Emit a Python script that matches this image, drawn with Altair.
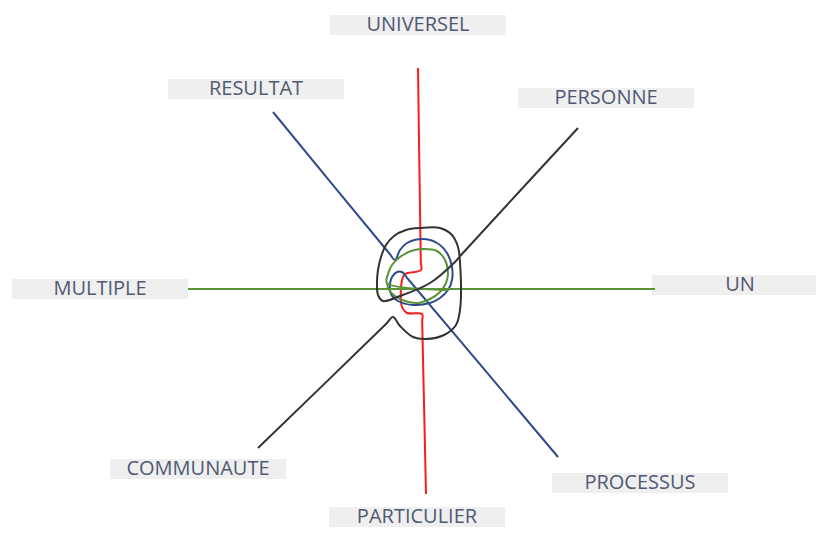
import altair as alt
import pandas as pd

# ---- labels and their boxes (page pixel coordinates) ----
labels = ["UNIVERSEL", "RESULTAT", "PERSONNE", "MULTIPLE", "UN",
          "COMMUNAUTE", "PROCESSUS", "PARTICULIER"]
label_cx = [418, 256, 606, 100, 740, 198, 640, 417]
label_cy = [25, 89, 98, 289, 285, 469, 483, 517]
BOX_W, BOX_H = 176, 20

# ---- paths ----
red_x = [418, 420.8, 421, 405, 402, 402, 407, 422, 422.2, 426]
red_y = [68, 262, 270, 274, 280, 307, 313, 314, 322, 494]

blue_x = [273, 389, 395, 400, 407, 423, 437, 447, 452, 452, 448, 440, 430, 413, 398, 391, 390, 392, 397, 402, 408, 558]
blue_y = [112, 253, 260, 250, 243, 239, 243, 253, 267, 280, 290, 298, 303, 305, 301, 294, 284, 277, 272, 272, 279, 457]

green_axis_x = [188, 655]
green_axis_y = [289, 289]

green_curl_x = [448, 387, 388, 392, 400, 411, 423, 437, 445, 448, 446, 440, 430, 418, 405, 395, 389, 387]
green_curl_y = [290, 283, 274, 265, 257, 251, 249, 251, 260, 273, 283, 292, 299, 303, 301, 296, 290, 283]

black_x = [578, 462, 455, 430, 400, 383, 378, 377, 378, 381, 386, 394, 406, 420, 440, 452, 458, 460, 460, 456, 444, 426, 413, 400, 393, 386, 258]
black_y = [128, 254, 262, 283, 296, 301, 295, 285, 270, 257, 245, 236, 230, 228, 228, 235, 247, 262, 310, 325, 335, 339, 337, 326, 317, 324, 448]

paths = {
    "red": (red_x, red_y),
    "blue": (blue_x, blue_y),
    "green_axis": (green_axis_x, green_axis_y),
    "green_curl": (green_curl_x, green_curl_y),
    "black": (black_x, black_y),
}
path_colors = {
    "red": "#ff1a1a",
    "blue": "#2f4b8c",
    "green_axis": "#5a9436",
    "green_curl": "#5a9436",
    "black": "#333333",
}

rows = []
for name, (xs_, ys_) in paths.items():
    for i, (x, y) in enumerate(zip(xs_, ys_)):
        rows.append({"path": name, "order": i, "x": x, "y": y})
path_df = pd.DataFrame(rows)

label_df = pd.DataFrame({
    "label": labels,
    "cx": label_cx,
    "cy": label_cy,
})
label_df["x1"] = label_df["cx"] - BOX_W / 2
label_df["x2"] = label_df["cx"] + BOX_W / 2
label_df["y1"] = label_df["cy"] - BOX_H / 2
label_df["y2"] = label_df["cy"] + BOX_H / 2

W, H = 808, 520
xs = alt.Scale(domain=[8, 8 + W], nice=False, zero=False)
ys = alt.Scale(domain=[8, 8 + H], nice=False, zero=False, reverse=True)

boxes = alt.Chart(label_df).mark_rect(color="#efefef").encode(
    x=alt.X("x1:Q", scale=xs, axis=None),
    x2="x2:Q",
    y=alt.Y("y1:Q", scale=ys, axis=None),
    y2="y2:Q",
)

texts = alt.Chart(label_df).mark_text(
    font="Open Sans", fontSize=20, color="#4f5a72", align="center", baseline="middle"
).encode(
    x=alt.X("cx:Q", scale=xs, axis=None),
    y=alt.Y("cy:Q", scale=ys, axis=None),
    text="label:N",
)

lines = alt.Chart(path_df).mark_line(strokeWidth=2, interpolate="catmull-rom").encode(
    x=alt.X("x:Q", scale=xs, axis=None),
    y=alt.Y("y:Q", scale=ys, axis=None),
    order="order:Q",
    detail="path:N",
    color=alt.Color("path:N",
                    scale=alt.Scale(domain=list(path_colors.keys()),
                                    range=list(path_colors.values())),
                    legend=None),
)

chart = alt.layer(boxes, texts, lines).properties(
    width=W, height=H,
    autosize=alt.AutoSizeParams(type="none"),
    padding=0,
    background="white",
).configure_view(stroke=None)

chart.save("out.html", embed_options={"renderer": "svg", "actions": False})
